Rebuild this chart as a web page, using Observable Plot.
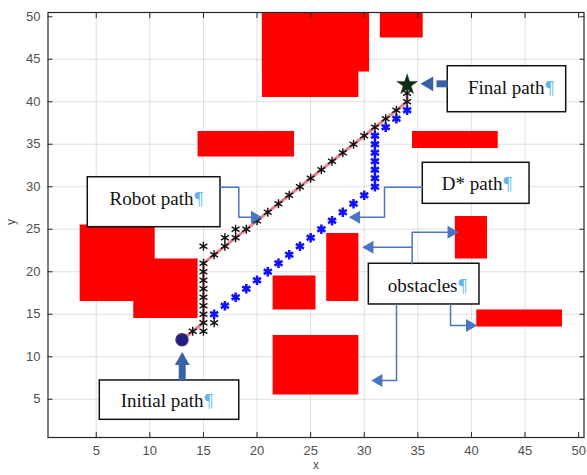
<!DOCTYPE html>
<html>
<head>
<meta charset="utf-8">
<script src="https://cdn.jsdelivr.net/npm/d3@7"></script>
<script src="https://cdn.jsdelivr.net/npm/@observablehq/plot@0.6"></script>
<style>
  html, body { margin: 0; padding: 0; background: #fff; }
</style>
</head>
<body>
<div id="chart"></div>
<script>
// ---- obstacles (red rectangles) ----
const obsX1 = [20.5, 20.5, 31.5, 14.5, 34.5, 3.5, 8.5, 21.5, 26.5, 21.5, 38.5, 40.5];
const obsX2 = [30.5, 29.5, 35.5, 23.5, 42.5, 10.5, 14.5, 25.5, 29.5, 29.5, 41.5, 48.5];
const obsY1 = [43.5, 40.5, 47.5, 33.5, 34.5, 16.5, 14.5, 15.5, 16.5, 5.5, 21.5, 13.5];
const obsY2 = [50.5, 50.5, 50.5, 36.5, 36.5, 25.5, 21.5, 19.5, 24.5, 12.5, 26.5, 15.5];

// ---- final path (line) ----
const finalX = [13,14,15,15,15,15,15,15,15,15,16,17,18,19,20,21,22,23,24,25,26,27,28,29,30,31,32,33,34,34,34];
const finalY = [12,13,14,15,16,17,18,19,20,21,22,23,24,25,26,27,28,29,30,31,32,33,34,35,36,37,38,39,40,41,42];

// ---- robot path (black asterisks) ----
const robotX = [14,15,15,15,15,15,15,15,15,15,15,16,16,17,17,18,18,19,20,21,22,23,24,25,26,27,28,29,30,31,32,33,34,34];
const robotY = [13,13,14,15,16,17,18,19,20,21,23,14,22,23,24,24,25,25,26,27,28,29,30,31,32,33,34,35,36,37,38,39,40,41];

// ---- D* path (blue asterisks) ----
const dstarX = [16,17,18,19,20,21,22,23,24,25,26,27,28,29,30,31,31,31,31,31,31,31,32,33,34];
const dstarY = [15,16,17,18,19,20,21,22,23,24,25,26,27,28,29,30,31,32,33,34,35,36,37,38,39];

// ---- start / goal ----
const startPt = {x: 13, y: 12};
const goalPt = {x: 34, y: 42};

// ---- ticks ----
const ticks = [5, 10, 15, 20, 25, 30, 35, 40, 45, 50];
const gridTicks = [5, 10, 15, 20, 25, 30, 35, 40, 45];

// ---- annotation boxes ----
const boxLabel = ["Robot path", "Final path", "D* path", "obstacles", "Initial path"];
const boxX1 = [4.21, 37.79, 35.46, 30.43, 5.33];
const boxX2 = [16.59, 48.84, 45.42, 40.75, 18.34];
const boxY1 = [25.24, 38.77, 27.99, 16.15, 2.58];
const boxY2 = [31.12, 44.18, 32.82, 20.94, 7.21];
const textX = [14.07, 46.82, 42.9, 38.7, 15.01];
const textY = [28.62, 41.64, 30.35, 18.38, 4.77];

// ---- connector polylines ----
const connId = [0,0,0,0, 1,1,1,1, 2,2,2, 3,3, 4,4,4, 5,5,5];
const connX = [16.59,18.3,18.3,19.78, 35.46,31.89,31.89,29.26, 34.47,34.47,38.12, 34.47,30.51, 38.05,38.05,39.84, 33.01,33.01,31.35];
const connY = [29.95,29.95,26.42,26.42, 29.95,29.95,26.42,26.42, 20.94,24.65,24.65, 22.89,22.89, 16.15,13.68,13.68, 16.15,7.21,7.21];
const headX = [19.78, 29.26, 38.12, 30.51, 39.84, 31.35];
const headY = [26.42, 26.42, 24.65, 22.89, 13.68, 7.21];
const headRot = [90, -90, 90, -90, 90, -90];

// ---- thick arrows (Final path, Initial path) ----
const bigX1 = [37.79, 13.02];
const bigY1 = [42.11, 7.21];
const bigX2 = [36.74, 13.02];
const bigY2 = [42.11, 9.32];
const bigHeadX = [36.04, 13.02];
const bigHeadY = [42.11, 9.54];
const bigHeadRot = [-90, 0];

// ---- build tables ----
const obstacles = obsX1.map((d, i) => ({x1: d, x2: obsX2[i], y1: obsY1[i], y2: obsY2[i]}));
const finalPath = finalX.map((d, i) => ({x: d, y: finalY[i]}));
const robot = robotX.map((d, i) => ({x: d, y: robotY[i]}));
const dstar = dstarX.map((d, i) => ({x: d, y: dstarY[i]}));
const boxes = boxLabel.map((d, i) => ({label: d, x1: boxX1[i], x2: boxX2[i], y1: boxY1[i], y2: boxY2[i], tx: textX[i], ty: textY[i]}));
const conns = connX.map((d, i) => ({x: d, y: connY[i], id: connId[i]}));
const heads = headX.map((d, i) => ({x: d, y: headY[i], r: headRot[i]}));
const bigs = bigX1.map((d, i) => ({x1: d, y1: bigY1[i], x2: bigX2[i], y2: bigY2[i]}));
const bigHeads = bigHeadX.map((d, i) => ({x: d, y: bigHeadY[i], r: bigHeadRot[i]}));

const connColor = "#4a74c4";
const bigColor = "#3a62a6";
const serif = "Liberation Serif, Times New Roman, serif";

const chart = Plot.plot({
  width: 587,
  height: 475,
  marginLeft: 47.5,
  marginRight: 3.5,
  marginTop: 12,
  marginBottom: 38,
  x: {domain: [0.5, 50.5]},
  y: {domain: [0.5, 50.5]},
  style: {background: "#fff", fontFamily: "Liberation Sans, Arial, sans-serif"},
  marks: [
    Plot.gridX(gridTicks, {stroke: "#000", strokeOpacity: 0.12}),
    Plot.gridY(gridTicks, {stroke: "#000", strokeOpacity: 0.12}),
    Plot.rect(obstacles, {x1: "x1", x2: "x2", y1: "y1", y2: "y2", fill: "#ff0000"}),
    Plot.axisX(ticks, {anchor: "bottom", tickSize: -5, tickPadding: 13, fontSize: 13, stroke: "#262626", fill: "#505050", label: null}),
    Plot.axisX(ticks, {anchor: "top", tickSize: -5, tickFormat: () => "", stroke: "#262626", label: null}),
    Plot.axisY(ticks, {anchor: "left", tickSize: -5, tickPadding: 12.5, fontSize: 13, stroke: "#262626", fill: "#505050", label: null}),
    Plot.axisY(ticks, {anchor: "right", tickSize: -5, tickFormat: () => "", stroke: "#262626", label: null}),
    Plot.frame({stroke: "#262626", strokeWidth: 1.2}),
    Plot.text(["x"], {frameAnchor: "bottom", dy: 31, text: d => d, fontSize: 12, fill: "#505050"}),
    Plot.text(["y"], {frameAnchor: "left", dx: -37, rotate: -90, text: d => d, fontSize: 12, fill: "#505050"}),
    // final path line
    Plot.line(finalPath, {x: "x", y: "y", stroke: "#e0707e", strokeWidth: 3, strokeOpacity: 0.85}),
    // D* path
    Plot.dot(dstar, {x: "x", y: "y", symbol: "asterisk", r: 4.4, stroke: "#1010ff", strokeWidth: 2.5}),
    // robot path
    Plot.dot(robot, {x: "x", y: "y", symbol: "asterisk", r: 4.3, stroke: "#111", strokeWidth: 1.4}),
    // start
    Plot.dot([startPt], {x: "x", y: "y", r: 6, fill: "#1c1c8a", stroke: "#4a2a6a", strokeWidth: 1.5}),
    // goal
    Plot.dot([goalPt], {x: "x", y: "y", symbol: "star", r: 6.5, fill: "#0d2a12", stroke: "#1a3a1a", strokeWidth: 0.5}),
    // annotation boxes
    Plot.rect(boxes, {x1: "x1", x2: "x2", y1: "y1", y2: "y2", fill: "#fff", stroke: "#111", strokeWidth: 1.5}),
    Plot.text(boxes, {x: "tx", y: "ty", text: "label", textAnchor: "end", fontFamily: serif, fontSize: 19, fill: "#111"}),
    Plot.text(boxes, {x: "tx", y: "ty", text: () => "¶", textAnchor: "start", dx: 1, fontFamily: serif, fontSize: 19, fill: "#5fb6e8"}),
    // connectors
    Plot.line(conns, {x: "x", y: "y", z: "id", stroke: connColor, strokeWidth: 1.5}),
    Plot.dot(heads, {x: "x", y: "y", symbol: "triangle", r: 4.8, rotate: "r", fill: connColor}),
    // thick arrows
    Plot.link(bigs, {x1: "x1", y1: "y1", x2: "x2", y2: "y2", stroke: bigColor, strokeWidth: 7}),
    Plot.dot(bigHeads, {x: "x", y: "y", symbol: "triangle", r: 5.5, rotate: "r", fill: bigColor})
  ]
});
document.getElementById("chart").appendChild(chart);
</script>
</body>
</html>
